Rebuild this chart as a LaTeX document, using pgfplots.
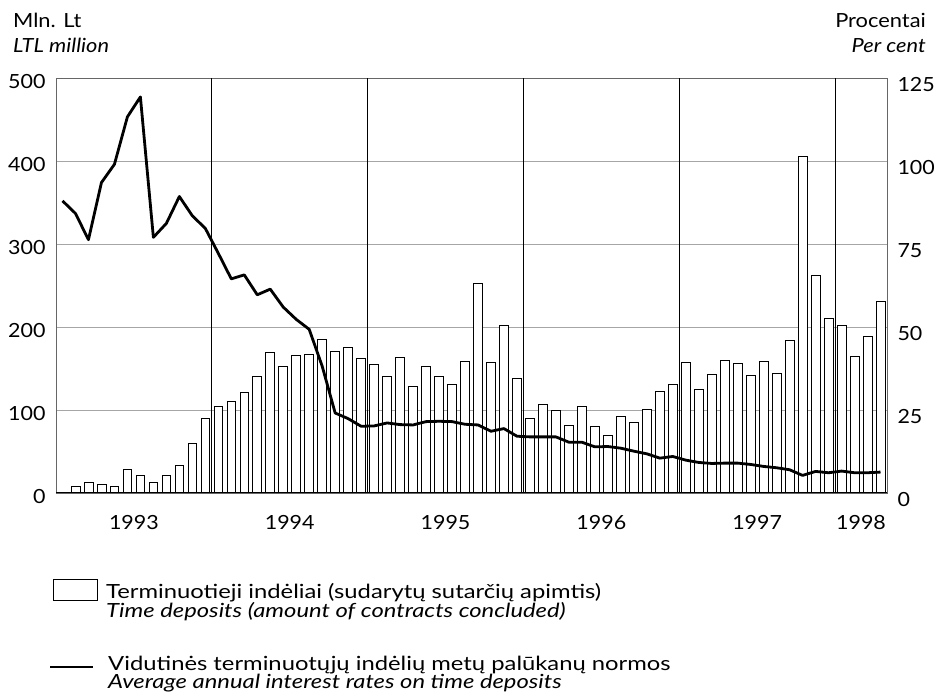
\documentclass[border=0pt]{standalone}
\usepackage{fontspec}
\setmainfont{Lato}
\newfontfamily\tickfont{Lato}[FakeStretch=1.1]
\newfontfamily\headfont{Lato}[FakeStretch=1.12]
\newfontfamily\legfont{Lato}[FakeStretch=1.22]
\usepackage{pgfplots}
\pgfplotsset{compat=1.18}
\begin{document}
\begin{tikzpicture}[x=1pt,y=1pt,font=\fontsize{19.5}{19.5}\selectfont]
\path[use as bounding box] (0,0) rectangle (938,697);
\begin{axis}[at={(56pt,204pt)}, anchor=south west, scale only axis, width=831pt, height=415pt,
 xmin=0.5, xmax=64.5, ymin=0, ymax=500, ybar, bar width=0.68,
 ytick={0,100,200,300,400,500}, ytick pos=left,
 xtick={6.5,18.5,30.5,42.5,54.5,62.5}, xticklabels={1993,1994,1995,1996,1997,1998},
 major tick length=0pt,
 ymajorgrids, grid style={gray!70, line width=0.7pt},
 extra x ticks={12.5,24.5,36.5,48.5,60.5}, extra x tick labels={},
 extra x tick style={grid=major, major grid style={black, line width=0.9pt}},
 axis line style={gray!80!black, line width=0.8pt},
 tick label style={font=\tickfont\fontsize{19.5}{19.5}\selectfont},
 /pgf/number format/assume math mode=true,
 yticklabel style={xshift=-7pt, yshift=-4pt},
 xticklabel style={yshift=-19pt},
]
\addplot[draw=black, fill=white, line width=0.7pt] table {
x y
1 1
2 8
3 13
4 10
5 8
6 29
7 21
8 13
9 21
10 33
11 60
12 90
13 105
14 111
15 121
16 141
17 169
18 153
19 166
20 167
21 185
22 171
23 175
24 162
25 155
26 140
27 163
28 129
29 152
30 140
31 131
32 159
33 252
34 157
35 202
36 138
37 90
38 107
39 99
40 81
41 104
42 80
43 70
44 92
45 85
46 101
47 122
48 131
49 158
50 125
51 143
52 160
53 156
54 142
55 159
56 144
57 184
58 406
59 262
60 211
61 202
62 165
63 189
64 231
};
\draw[black, line width=2.2pt] (axis cs:0.5,0) -- (axis cs:64.5,0);
\end{axis}
\begin{axis}[at={(56pt,204pt)}, anchor=south west, scale only axis, width=831pt, height=415pt,
 xmin=0.5, xmax=64.5, ymin=0, ymax=125, axis x line=none, axis y line*=right,
 ytick={0,25,50,75,100,125}, major tick length=0pt, y axis line style={draw=none},
 tick label style={font=\tickfont\fontsize{19.5}{19.5}\selectfont},
 /pgf/number format/assume math mode=true,
 yticklabel style={anchor=west, xshift=7pt, yshift=-7pt},
]
\addplot[black, line width=2.8pt, line join=round] table {
x y
1 88
2 84.2
3 76.3
4 93.5
5 99
6 113.3
7 119.3
8 77
9 81.2
10 89.3
11 83.5
12 79.7
13 72.2
14 64.5
15 65.7
16 59.7
17 61.4
18 56
19 52.3
20 49.3
21 38.2
22 24.1
23 22.4
24 20.1
25 20.2
26 21.1
27 20.6
28 20.5
29 21.5
30 21.6
31 21.5
32 20.7
33 20.5
34 18.6
35 19.4
36 17.1
37 16.9
38 16.9
39 16.9
40 15.3
41 15.3
42 13.9
43 14.0
44 13.5
45 12.6
46 11.8
47 10.5
48 11.0
49 9.9
50 9.2
51 8.9
52 9.0
53 9.0
54 8.6
55 8.0
56 7.6
57 7.0
58 5.3
59 6.5
60 6.1
61 6.6
62 6.1
63 6.1
64 6.3
};
\end{axis}
\node[anchor=base west, inner sep=0, font=\headfont\fontsize{19.5}{19.5}\selectfont] at (13,669) {Mln. Lt};
\node[anchor=base west, inner sep=0, font=\headfont\fontsize{19.5}{19.5}\selectfont] at (13,644) {\itshape LTL million};
\node[anchor=base east, inner sep=0, font=\headfont\fontsize{19.5}{19.5}\selectfont] at (926,669) {Procentai};
\node[anchor=base east, inner sep=0, font=\headfont\fontsize{19.5}{19.5}\selectfont] at (926,644) {\itshape Per cent};
\draw[line width=0.8pt] (53,97) rectangle (97,118);
\node[anchor=base west, inner sep=0, font=\legfont\fontsize{19.5}{19.5}\selectfont] at (106,99) {Terminuotieji indėliai (sudarytų sutarčių apimtis)};
\node[anchor=base west, inner sep=0, font=\legfont\fontsize{19.5}{19.5}\selectfont] at (106,80) {\itshape Time deposits (amount of contracts concluded)};
\draw[line width=2.7pt] (50,30) -- (93,30);
\node[anchor=base west, inner sep=0, font=\legfont\fontsize{19.5}{19.5}\selectfont] at (108,27) {Vidutinės terminuotųjų indėlių metų palūkanų normos};
\node[anchor=base west, inner sep=0, font=\legfont\fontsize{19.5}{19.5}\selectfont] at (108,9) {\itshape Average annual interest rates on time deposits};
\end{tikzpicture}
\end{document}
